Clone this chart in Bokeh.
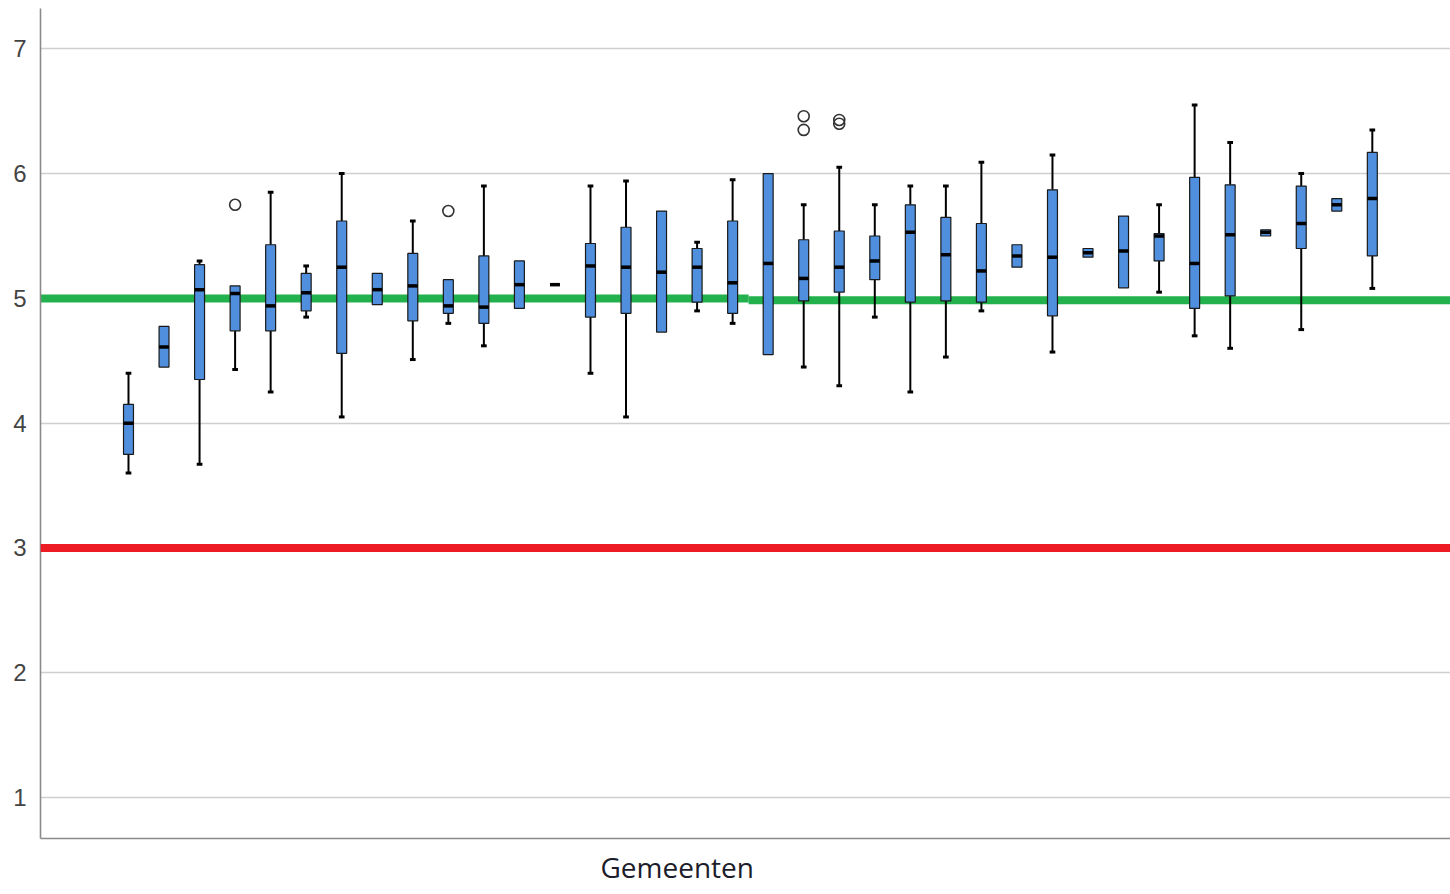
from bokeh.plotting import figure
from bokeh.models import FixedTicker, Range1d, Title, Span
from bokeh.embed import file_html
from bokeh.resources import INLINE

# ---- data ----
gemeenten = list(range(1, 37))
whisker_low = [3.60, 4.45, 3.67, 4.43, 4.25, 4.85, 4.05, 4.95, 4.51, 4.80, 4.62, 4.92,
               5.11, 4.40, 4.05, 4.73, 4.90, 4.80, 4.55, 4.45, 4.30, 4.85, 4.25, 4.53,
               4.90, 5.25, 4.57, 5.33, 5.085, 5.05, 4.70, 4.60, 5.50, 4.75, 5.70, 5.08]
q1 = [3.75, 4.45, 4.35, 4.74, 4.74, 4.90, 4.56, 4.95, 4.82, 4.88, 4.80, 4.92,
      5.11, 4.85, 4.88, 4.73, 4.97, 4.88, 4.55, 4.98, 5.05, 5.15, 4.97, 4.98,
      4.97, 5.25, 4.86, 5.33, 5.085, 5.30, 4.92, 5.02, 5.50, 5.40, 5.70, 5.34]
median = [4.00, 4.61, 5.07, 5.04, 4.94, 5.045, 5.25, 5.07, 5.10, 4.94, 4.93, 5.11,
          5.11, 5.26, 5.25, 5.21, 5.25, 5.125, 5.28, 5.16, 5.25, 5.30, 5.53, 5.35,
          5.22, 5.34, 5.33, 5.365, 5.38, 5.50, 5.28, 5.51, 5.53, 5.60, 5.75, 5.80]
q3 = [4.15, 4.775, 5.27, 5.10, 5.43, 5.20, 5.62, 5.20, 5.36, 5.15, 5.34, 5.30,
      5.11, 5.44, 5.57, 5.70, 5.40, 5.62, 6.00, 5.47, 5.54, 5.50, 5.75, 5.65,
      5.60, 5.43, 5.87, 5.40, 5.66, 5.52, 5.97, 5.91, 5.55, 5.90, 5.80, 6.17]
whisker_high = [4.40, 4.775, 5.30, 5.10, 5.85, 5.26, 6.00, 5.20, 5.62, 5.15, 5.90, 5.30,
                5.11, 5.90, 5.94, 5.70, 5.45, 5.95, 6.00, 5.75, 6.05, 5.75, 5.90, 5.90,
                6.09, 5.43, 6.15, 5.40, 5.66, 5.75, 6.55, 6.25, 5.55, 6.00, 5.80, 6.35]
outlier_gemeente = [4, 10, 20, 20, 21, 21]
outlier_value = [5.75, 5.70, 6.46, 6.35, 6.43, 6.40]

y_ticks = [1, 2, 3, 4, 5, 6, 7]
norm_low = 3.0                      # red reference line
norm_high = [5.0, 4.985]            # green reference line (two parts)
norm_high_break = 18.45             # where the green line steps
x_label = "Gemeenten"

# ---- figure ----
X0, X1 = -1.476, 38.2
Y0, Y1 = 0.672, 7.323
p = figure(width=1450, height=894, output_backend="svg", toolbar_location=None,
           x_range=Range1d(X0, X1), y_range=Range1d(Y0, Y1),
           min_border_left=40, min_border_right=0, min_border_top=8, min_border_bottom=56)
p.outline_line_color = None
p.background_fill_color = "white"
p.border_fill_color = "white"

p.xgrid.grid_line_color = None
p.ygrid.grid_line_color = "#cfcfcf"
p.ygrid.grid_line_width = 1.6
p.yaxis.ticker = FixedTicker(ticks=y_ticks)
p.yaxis.major_tick_line_color = None
p.yaxis.minor_tick_line_color = None
p.yaxis.major_label_standoff = 8
p.yaxis.major_label_text_font = "Liberation Sans"
p.yaxis.major_label_text_font_size = "24px"
p.yaxis.major_label_text_color = "#444444"
p.yaxis.axis_line_color = "#8a8a8a"
p.yaxis.axis_line_width = 1.6

p.xaxis.ticker = FixedTicker(ticks=[])
p.xaxis.major_tick_line_color = None
p.xaxis.minor_tick_line_color = None
p.xaxis.major_label_text_font_size = "0px"
p.xaxis.major_label_standoff = 0
p.xaxis.axis_line_color = "#8a8a8a"
p.xaxis.axis_line_width = 1.6

p.add_layout(Title(text=x_label, align="left", offset=560, standoff=14,
                   text_font="Open Sans", text_font_size="28px",
                   text_font_style="normal", text_color="#1c1c2a"), "below")

# reference lines
p.add_layout(Span(location=norm_low, dimension="width", line_color="#ed1c24", line_width=8))
p.segment(x0=[X0, norm_high_break], x1=[norm_high_break, X1], y0=norm_high, y1=norm_high,
          line_color="#22b14c", line_width=8)

# whiskers
p.segment(x0=gemeenten, x1=gemeenten, y0=q3, y1=whisker_high, line_color="black", line_width=2)
p.segment(x0=gemeenten, x1=gemeenten, y0=whisker_low, y1=q1, line_color="black", line_width=2)
cap_w = 0.08
hx = [g for g, h, t in zip(gemeenten, whisker_high, q3) if h > t]
hy = [h for h, t in zip(whisker_high, q3) if h > t]
lx = [g for g, l, b in zip(gemeenten, whisker_low, q1) if l < b]
ly = [l for l, b in zip(whisker_low, q1) if l < b]
p.segment(x0=[g - cap_w for g in hx], x1=[g + cap_w for g in hx], y0=hy, y1=hy,
          line_color="black", line_width=3)
p.segment(x0=[g - cap_w for g in lx], x1=[g + cap_w for g in lx], y0=ly, y1=ly,
          line_color="black", line_width=3)

# boxes
box_w = 0.28
p.vbar(x=gemeenten, width=box_w, bottom=q1, top=q3, fill_color="#4f8fde",
       line_color="#1a1a1a", line_width=1.2)
p.segment(x0=[g - box_w / 2 for g in gemeenten], x1=[g + box_w / 2 for g in gemeenten],
          y0=median, y1=median, line_color="black", line_width=3.5)

# outliers
p.scatter(x=outlier_gemeente, y=outlier_value, marker="circle", size=11,
          fill_color=None, line_color="#333333", line_width=1.6)

open("out.html", "w").write(file_html(p, INLINE))
